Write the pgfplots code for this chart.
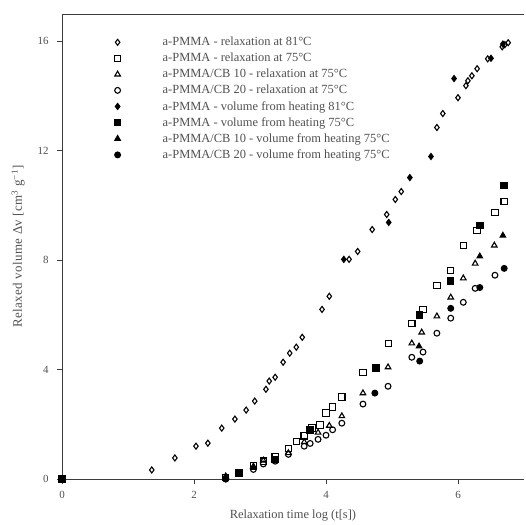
\documentclass[border=0pt]{standalone}
\usepackage{fontspec}
\setmainfont{Liberation Serif}
\usepackage{pgfplots}
\pgfplotsset{compat=1.18}
\definecolor{axgray}{RGB}{60,60,60}
\definecolor{txtgray}{RGB}{80,80,80}

\begin{document}
\begin{tikzpicture}
\begin{axis}[
  scale only axis,
  width=462bp, height=465bp,
  xmin=0, xmax=7, ymin=0, ymax=17,
  axis lines=left, axis line style={axgray, line width=0.9bp, -},
  xtick={0,2,4,6}, ytick={0,4,8,12,16},
  tick align=outside, major tick length=5bp,
  tick style={axgray, line width=0.9bp},
  /pgf/number format/assume math mode=true,
  ticklabel style={font=\fontsize{11}{12}\selectfont, text=txtgray},
  xticklabel style={yshift=-4bp},
  yticklabel style={xshift=-5bp},
  xlabel={Relaxation time log (t[s])},
  ylabel={Relaxed volume Δv [cm\textsuperscript{3} g\textsuperscript{−1}]},
  xlabel style={font=\fontsize{12.5}{13}\selectfont, text=txtgray, yshift=-4bp},
  ylabel style={font=\fontsize{13}{14}\selectfont\addfontfeature{LetterSpace=3}, text=txtgray, yshift=6bp},
  clip=false,
  legend style={draw=none, fill=none, at={(rel axis cs:0.10,0.959)}, anchor=north west,
    font=\fontsize{12.5}{13}\selectfont, text=txtgray, row sep=1.9bp},
  legend cell align=left,
  legend image code/.code={\draw[#1] plot coordinates {(0.2cm,0cm)} ; \path (0cm,0cm) (1.7cm,0cm);},
  every axis plot/.append style={only marks, black, line width=1.1bp},
]
\coordinate (bl) at (rel axis cs:0,0);
\coordinate (tr) at (rel axis cs:1,1);
% a-PMMA relaxation 81
\addplot[mark=diamond, mark size=3bp, mark options={fill=white}] coordinates {
(1.36,0.33) (1.71,0.77) (2.03,1.20) (2.21,1.31) (2.42,1.86) (2.62,2.19) (2.79,2.52)
(2.92,2.85) (3.09,3.28) (3.14,3.58) (3.23,3.72) (3.35,4.27) (3.45,4.60) (3.55,4.82)
(3.64,5.18) (3.94,6.20) (4.05,6.68) (4.35,8.03) (4.48,8.32) (4.70,9.12) (4.92,9.67)
(5.05,10.22) (5.14,10.51) (5.68,12.85) (5.77,13.36) (6.00,13.94) (6.12,14.38)
(6.15,14.56) (6.21,14.74) (6.29,15.00) (6.45,15.36) (6.67,15.80) (6.71,15.88) (6.76,15.95)};
\addlegendentry{a-PMMA - relaxation at 81°C}
% a-PMMA relaxation 75
\addplot[mark=square, mark size=3.2bp, mark options={fill=white}] coordinates {
(2.48,0.05) (2.68,0.22) (2.90,0.48) (3.05,0.65) (3.23,0.80) (3.43,1.12) (3.55,1.38)
(3.67,1.58) (3.79,1.86) (3.91,1.97) (4.00,2.41) (4.10,2.63) (4.24,3.00) (4.56,3.90)
(4.95,4.96) (5.30,5.69) (5.47,6.20) (5.68,7.08) (5.89,7.63) (6.08,8.54) (6.29,9.09)
(6.56,9.74) (6.70,10.15)};
\addlegendentry{a-PMMA - relaxation at 75°C}
% CB10 relaxation 75
\addplot[mark=triangle, mark size=3.2bp, mark options={fill=white}] coordinates {
(2.48,0.10) (2.90,0.45) (3.05,0.68) (3.43,0.95) (3.67,1.35) (3.88,1.70) (4.05,1.95)
(4.24,2.30) (4.56,3.14) (4.94,4.09) (5.30,4.96) (5.45,5.36) (5.68,5.95) (5.89,6.64)
(6.08,7.34) (6.26,7.88) (6.55,8.54)};
\addlegendentry{a-PMMA/CB 10 - relaxation at 75°C}
% CB20 relaxation 75
\addplot[mark=o, mark size=2.9bp, mark options={fill=white}] coordinates {
(2.48,0.00) (2.90,0.35) (3.05,0.55) (3.23,0.65) (3.43,0.90) (3.67,1.20) (3.76,1.30)
(3.88,1.45) (4.00,1.60) (4.10,1.80) (4.24,2.04) (4.56,2.74) (4.94,3.39) (5.30,4.45)
(5.47,4.64) (5.68,5.33) (5.89,5.88) (6.08,6.46) (6.26,6.97) (6.56,7.45)};
\addlegendentry{a-PMMA/CB 20 - relaxation at 75°C}
% a-PMMA heating 81
\addplot[mark=diamond*, mark size=3bp] coordinates {
(4.27,8.03) (4.95,9.38) (5.27,11.02) (5.59,11.79) (5.94,14.64) (6.50,15.38) (6.68,15.90)};
\addlegendentry{a-PMMA - volume from heating 81°C}
% a-PMMA heating 75
\addplot[mark=square*, mark size=3.2bp] coordinates {
(0,0) (2.68,0.20) (3.23,0.72) (3.76,1.80) (4.76,4.05) (5.42,5.99) (5.89,7.23)
(6.33,9.27) (6.70,10.73)};
\addlegendentry{a-PMMA - volume from heating 75°C}
% CB10 heating 75
\addplot[mark=triangle*, mark size=3.2bp] coordinates {
(0,0) (2.48,0.08) (2.90,0.45) (5.41,4.85) (6.33,8.14) (6.68,8.90)};
\addlegendentry{a-PMMA/CB 10 - volume from heating 75°C}
% CB20 heating 75
\addplot[mark=*, mark size=2.9bp] coordinates {
(0,0) (2.48,0.00) (4.74,3.14) (5.42,4.31) (5.89,6.24) (6.33,7.00) (6.70,7.70)};
\addlegendentry{a-PMMA/CB 20 - volume from heating 75°C}
\draw[axgray, line width=0.9bp] (rel axis cs:0,1) -- (rel axis cs:1,1);
\end{axis}
\path ([shift={(-62bp,-44bp)}]bl) rectangle ([shift={(2bp,14bp)}]tr);
\end{tikzpicture}
\end{document}
